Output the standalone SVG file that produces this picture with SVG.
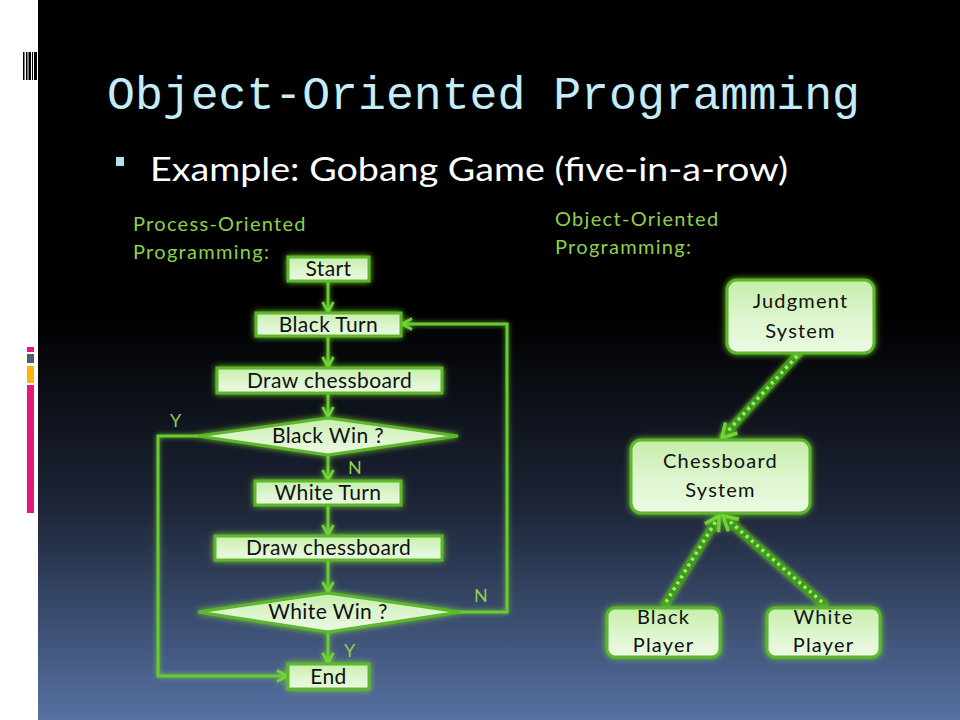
<svg xmlns="http://www.w3.org/2000/svg" width="960" height="720" viewBox="0 0 960 720">
<defs>
  <linearGradient id="bg" x1="0" y1="0" x2="0" y2="1">
    <stop offset="0" stop-color="#000000"/>
    <stop offset="0.44" stop-color="#000000"/>
    <stop offset="0.7" stop-color="#1c2436"/>
    <stop offset="1" stop-color="#5671a2"/>
  </linearGradient>
  <linearGradient id="nodefill" x1="0" y1="0" x2="0" y2="1">
    <stop offset="0" stop-color="#c6eeaa"/>
    <stop offset="0.5" stop-color="#dcf5cc"/>
    <stop offset="1" stop-color="#ecfae4"/>
  </linearGradient>
  <filter id="glow" x="-20%" y="-30%" width="140%" height="160%">
    <feGaussianBlur in="SourceAlpha" stdDeviation="3" result="b"/>
    <feFlood flood-color="#80e030" flood-opacity="0.85"/>
    <feComposite in2="b" operator="in" result="g"/>
    <feMerge><feMergeNode in="g"/><feMergeNode in="SourceGraphic"/></feMerge>
  </filter>
  <filter id="lglow" filterUnits="userSpaceOnUse" x="0" y="0" width="960" height="720">
    <feGaussianBlur in="SourceAlpha" stdDeviation="2.5" result="b"/>
    <feFlood flood-color="#80e030" flood-opacity="0.8"/>
    <feComposite in2="b" operator="in" result="g"/>
    <feMerge><feMergeNode in="g"/><feMergeNode in="SourceGraphic"/></feMerge>
  </filter>
  <marker id="chev" viewBox="0 0 14 14" refX="12" refY="7" markerWidth="14" markerHeight="14" orient="auto" markerUnits="userSpaceOnUse">
    <path d="M2,1.5 L12,7 L2,12.5" fill="none" stroke="#6fd23a" stroke-width="2.6" stroke-linejoin="miter"/>
  </marker>
  <marker id="chevBig" viewBox="0 0 20 20" refX="17" refY="10" markerWidth="20" markerHeight="20" orient="auto" markerUnits="userSpaceOnUse">
    <path d="M3,2 L17,10 L3,18" fill="none" stroke="#6fd23a" stroke-width="3.5"/>
  </marker>
  <style>
    .node { fill: url(#nodefill); stroke: #5cb82c; stroke-width: 3; filter: url(#glow); }
    .ntext { font-family: Lato, "Open Sans", sans-serif; font-size: 21px; fill: #111; text-anchor: middle; letter-spacing: 0.4px; }
    .otext { font-family: Lato, "Open Sans", sans-serif; font-size: 20px; fill: #111; text-anchor: middle; letter-spacing: 1.2px; }
    .flow { fill: none; stroke: #66cc33; stroke-width: 3; filter: url(#lglow); }
    .lbl { font-family: Lato, "Open Sans", sans-serif; font-size: 18px; fill: #8fd04a; }
    .hdr { font-family: Lato, "Open Sans", sans-serif; font-size: 20px; fill: #8fd04a; letter-spacing: 1.3px; }
    .dotbase { fill: none; stroke: #3e9c1c; stroke-width: 8; filter: url(#lglow); }
    .dots { fill: none; stroke: #a6ea6a; stroke-width: 3.5; stroke-dasharray: 3 4; }
  </style>
</defs>

<!-- background -->
<rect x="0" y="0" width="960" height="720" fill="#ffffff"/>
<rect x="38" y="0" width="922" height="720" fill="url(#bg)"/>

<!-- left decorations -->
<g id="barcode" fill="#000">
  <rect x="23" y="52" width="1.5" height="28"/>
  <rect x="26" y="52" width="1.5" height="28"/>
  <rect x="28.5" y="52" width="2.5" height="28"/>
  <rect x="32" y="52" width="1" height="28"/>
  <rect x="34" y="52" width="3" height="28"/>
</g>
<g id="bars">
  <rect x="27" y="347" width="7" height="5" fill="#e5197a"/>
  <rect x="27" y="354" width="7" height="9" fill="#4f5c6a"/>
  <rect x="27" y="366" width="7" height="17" fill="#fbb40d"/>
  <rect x="27" y="385" width="7" height="128" fill="#e5197a"/>
</g>

<!-- title -->
<text id="title" x="107" y="109" font-family="Liberation Mono, DejaVu Sans Mono, monospace" font-size="46" fill="#c4ecfa" textLength="753" lengthAdjust="spacingAndGlyphs">Object-Oriented Programming</text>
<rect x="116" y="157" width="8" height="9" fill="#b8def0"/>
<text id="subtitle" x="150" y="181" font-family="Lato, 'Open Sans', sans-serif" font-size="32" fill="#ffffff" textLength="638" lengthAdjust="spacingAndGlyphs">Example: Gobang Game (five-in-a-row)</text>

<!-- section headers -->
<g id="hdr-left">
  <text class="hdr" x="133" y="231">Process-Oriented</text>
  <text class="hdr" x="133" y="259">Programming:</text>
</g>
<g id="hdr-right">
  <text class="hdr" x="555" y="226">Object-Oriented</text>
  <text class="hdr" x="555" y="254">Programming:</text>
</g>

<!-- connectors -->
<g id="connectors">
  <line class="flow" x1="328" y1="282" x2="328" y2="312" marker-end="url(#chev)"/>
  <line class="flow" x1="328" y1="337" x2="328" y2="367" marker-end="url(#chev)"/>
  <line class="flow" x1="328" y1="394" x2="328" y2="417" marker-end="url(#chev)"/>
  <line class="flow" x1="328" y1="456" x2="328" y2="480" marker-end="url(#chev)"/>
  <line class="flow" x1="328" y1="506" x2="328" y2="535" marker-end="url(#chev)"/>
  <line class="flow" x1="328" y1="561" x2="328" y2="592" marker-end="url(#chev)"/>
  <line class="flow" x1="328" y1="633" x2="328" y2="663" marker-end="url(#chev)"/>
  <polyline class="flow" points="458,612 507,612 507,324 402,324" marker-end="url(#chev)"/>
  <polyline class="flow" points="199,436 158,436 158,676 287,676" marker-end="url(#chev)"/>

  <line class="dotbase" x1="800" y1="352" x2="722" y2="438" marker-end="url(#chevBig)"/>
  <line class="dots" x1="797" y1="356" x2="727" y2="432"/>
  <line class="dotbase" x1="664" y1="606" x2="719" y2="516" marker-end="url(#chevBig)"/>
  <line class="dots" x1="666" y1="602" x2="716" y2="521"/>
  <line class="dotbase" x1="826" y1="606" x2="723" y2="516" marker-end="url(#chevBig)"/>
  <line class="dots" x1="822" y1="602" x2="728" y2="520"/>

  <text class="lbl" x="170" y="427">Y</text>
  <text class="lbl" x="348" y="474">N</text>
  <text class="lbl" x="474" y="602">N</text>
  <text class="lbl" x="344" y="657">Y</text>
</g>

<!-- flowchart nodes -->
<g id="start">
  <rect class="node" x="288" y="257" width="81" height="24"/>
  <text class="ntext" x="328.5" y="276">Start</text>
</g>
<g id="black-turn">
  <rect class="node" x="256" y="313" width="145" height="23"/>
  <text class="ntext" x="328.5" y="332">Black Turn</text>
</g>
<g id="draw1">
  <rect class="node" x="217" y="368" width="225" height="25"/>
  <text class="ntext" x="329.5" y="388">Draw chessboard</text>
</g>
<g id="black-win">
  <polygon class="node" points="198,436 328,418 458,436 328,455"/>
  <text class="ntext" x="328" y="443">Black Win ?</text>
</g>
<g id="white-turn">
  <rect class="node" x="255" y="481" width="146" height="24"/>
  <text class="ntext" x="328" y="500">White Turn</text>
</g>
<g id="draw2">
  <rect class="node" x="215" y="536" width="227" height="24"/>
  <text class="ntext" x="328.5" y="555">Draw chessboard</text>
</g>
<g id="white-win">
  <polygon class="node" points="198,612 328,593 460,612 328,632"/>
  <text class="ntext" x="328" y="619">White Win ?</text>
</g>
<g id="end">
  <rect class="node" x="288" y="664" width="81" height="25"/>
  <text class="ntext" x="328.5" y="684">End</text>
</g>

<!-- object nodes -->
<g id="judgment">
  <rect class="node" x="727" y="280" width="147" height="73" rx="10"/>
  <text class="otext" x="800.5" y="308">Judgment</text>
  <text class="otext" x="800.5" y="338">System</text>
</g>
<g id="chessboard">
  <rect class="node" x="631" y="440" width="179" height="73" rx="10"/>
  <text class="otext" x="720.5" y="468">Chessboard</text>
  <text class="otext" x="720.5" y="497">System</text>
</g>
<g id="black-player">
  <rect class="node" x="607" y="608" width="113" height="49" rx="8"/>
  <text class="otext" x="663.5" y="624">Black</text>
  <text class="otext" x="663.5" y="652">Player</text>
</g>
<g id="white-player">
  <rect class="node" x="767" y="608" width="113" height="49" rx="8"/>
  <text class="otext" x="823.5" y="624">White</text>
  <text class="otext" x="823.5" y="652">Player</text>
</g>
</svg>
